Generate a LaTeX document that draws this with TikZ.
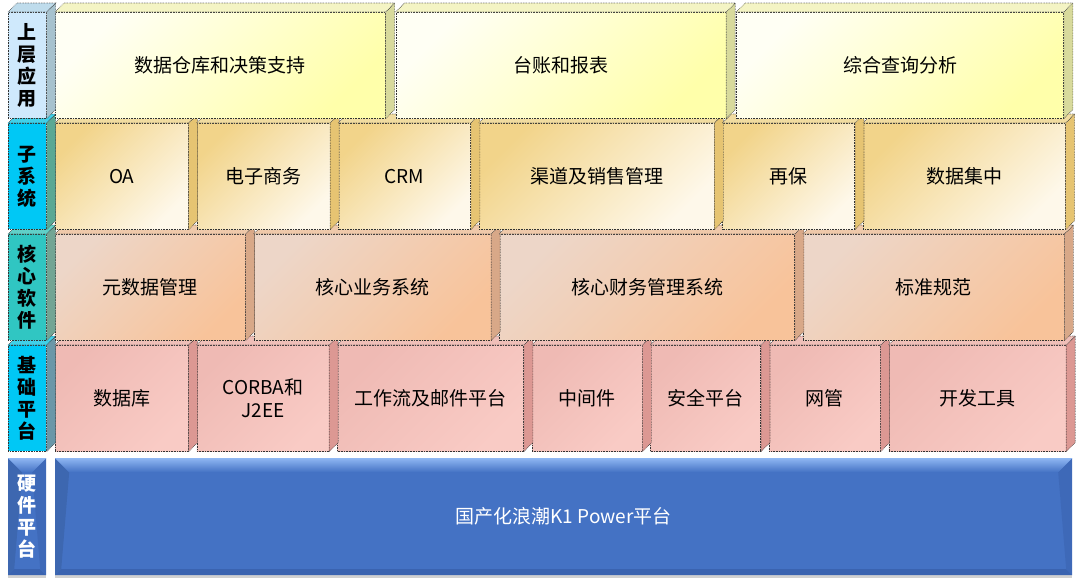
\documentclass[tikz,border=0pt]{standalone}
\usepackage{fontspec}
\setmainfont{Noto Sans CJK SC}
\usetikzlibrary{positioning,calc,shadows}
\definecolor{upperTL}{RGB}{255, 255, 244}
\definecolor{upperBR}{RGB}{255, 255, 170}
\definecolor{upperSide}{RGB}{216, 218, 156}
\definecolor{upperTop}{RGB}{244, 244, 196}
\definecolor{subTL}{RGB}{242, 212, 138}
\definecolor{subBR}{RGB}{254, 248, 234}
\definecolor{subSide}{RGB}{230, 196, 114}
\definecolor{subTop}{RGB}{241, 220, 160}
\definecolor{coreTL}{RGB}{237, 214, 200}
\definecolor{coreBR}{RGB}{248, 195, 154}
\definecolor{coreSide}{RGB}{216, 168, 136}
\definecolor{coreTop}{RGB}{239, 201, 170}
\definecolor{baseTL}{RGB}{239, 186, 180}
\definecolor{baseBR}{RGB}{249, 203, 197}
\definecolor{baseSide}{RGB}{220, 152, 147}
\definecolor{baseTop}{RGB}{239, 191, 184}
\definecolor{lblUpper}{RGB}{207, 233, 252}
\definecolor{lblUpperSide}{RGB}{167, 194, 206}
\definecolor{lblUpperTop}{RGB}{191, 220, 236}
\definecolor{lblCyan}{RGB}{0, 200, 245}
\definecolor{lblCyanTop}{RGB}{64, 208, 232}
\definecolor{lblSubSide}{RGB}{90, 168, 148}
\definecolor{lblBaseSide}{RGB}{106, 151, 168}
\definecolor{lblTeal}{RGB}{48, 198, 194}
\definecolor{lblTealSide}{RGB}{114, 165, 148}
\definecolor{lblTealTop}{RGB}{96, 208, 200}
\definecolor{hwBlue}{RGB}{68, 114, 196}
\definecolor{hwLight}{RGB}{142, 182, 242}
\definecolor{hwDark}{RGB}{58, 99, 176}

% top and right faces of a box, 9pt deep
\newcommand{\cubefaces}[3]{%
  \filldraw[facedge, fill=#2] (#1.north east) -- ++(9pt,9pt)
    -- ($(#1.south east)+(9pt,9pt)$) -- (#1.south east) -- cycle;
  \filldraw[facedge, fill=#3] (#1.north west) -- ++(9pt,9pt)
    -- ($(#1.north east)+(9pt,9pt)$) -- (#1.north east) -- cycle;
}

\begin{document}
\begin{tikzpicture}[
  x=1pt, y=-1pt,
  node distance=8pt,
  facedge/.style={draw=black!80, densely dotted, line width=0.6pt},
  face/.style={facedge, inner sep=0pt, minimum height=106pt, align=center,
               font=\fontsize{19}{23}\selectfont},
  lbl/.style={face, minimum width=38pt, font=\fontsize{19}{22}\selectfont\bfseries},
  upper/.style={face, top color=upperTL, bottom color=upperBR, shading angle=45},
  sub/.style={face, top color=subTL, bottom color=subBR, shading angle=45},
  core/.style={face, top color=coreTL, bottom color=coreBR, shading angle=45},
  base/.style={face, top color=baseTL, bottom color=baseBR, shading angle=45},
  hw/.style={fill=hwBlue, inner sep=0pt, minimum height=117pt, align=center,
             text=white, drop shadow={shadow xshift=0pt, shadow yshift=-3pt,
             opacity=0.3, fill=black!60},
    path picture={
      \fill[hwDark] (path picture bounding box.south west) -- ++(6pt,6pt)
        -- ($(path picture bounding box.south east)+(-6pt,6pt)$)
        -- (path picture bounding box.south east) -- cycle;
      \fill[hwDark!60!hwBlue] (path picture bounding box.north east) -- ++(-14pt,-14pt)
        -- ($(path picture bounding box.south east)+(-6pt,6pt)$)
        -- (path picture bounding box.south east) -- cycle;
      \fill[hwBlue!90!black] (path picture bounding box.north west) -- ++(14pt,-14pt)
        -- ($(path picture bounding box.south west)+(6pt,6pt)$)
        -- (path picture bounding box.south west) -- cycle;
      \shade[top color=hwLight, bottom color=hwBlue] (path picture bounding box.north west)
        -- (path picture bounding box.north east) -- ++(-14pt,-14pt)
        -- ($(path picture bounding box.north west)+(14pt,-14pt)$) -- cycle;
    }}
]
\useasboundingbox (0,0) rectangle (1080,584);

% hardware
\node[hw, minimum width=38pt, anchor=north west, font=\fontsize{19}{22}\selectfont\bfseries]
  (hwl) at (8,458) {硬\\件\\平\\台};
\node[hw, minimum width=1017pt, anchor=north west, font=\fontsize{19}{23}\selectfont]
  (hwp) at (55,458) {国产化浪潮K1 Power平台};

% base platform
\node[lbl, fill=lblCyan, anchor=north west] (l4) at (8,345) {基\\础\\平\\台};
\node[base, minimum width=133pt, anchor=north west] (b1) at (55,345) {数据库};
\node[base, minimum width=132pt, right=of b1] (b2) {CORBA和\\J2EE};
\node[base, minimum width=186pt, right=of b2] (b3) {工作流及邮件平台};
\node[base, minimum width=110pt, right=of b3] (b4) {中间件};
\node[base, minimum width=110pt, right=of b4] (b5) {安全平台};
\node[base, minimum width=111pt, right=of b5] (b6) {网管};
\node[base, minimum width=177pt, right=of b6] (b7) {开发工具};
\cubefaces{l4}{lblBaseSide}{lblCyanTop}
\cubefaces{b1}{baseSide}{baseTop}
\cubefaces{b2}{baseSide}{baseTop}
\cubefaces{b3}{baseSide}{baseTop}
\cubefaces{b4}{baseSide}{baseTop}
\cubefaces{b5}{baseSide}{baseTop}
\cubefaces{b6}{baseSide}{baseTop}
\cubefaces{b7}{baseSide}{baseTop}

% core software
\node[lbl, fill=lblTeal, anchor=north west] (l3) at (8,234) {核\\心\\软\\件};
\node[core, minimum width=190pt, anchor=north west] (c1) at (55,234) {元数据管理};
\node[core, minimum width=237pt, right=of c1] (c2) {核心业务系统};
\node[core, minimum width=295pt, right=of c2] (c3) {核心财务管理系统};
\node[core, minimum width=261pt, right=of c3] (c4) {标准规范};
\cubefaces{l3}{lblTealSide}{lblTealTop}
\cubefaces{c1}{coreSide}{coreTop}
\cubefaces{c2}{coreSide}{coreTop}
\cubefaces{c3}{coreSide}{coreTop}
\cubefaces{c4}{coreSide}{coreTop}

% subsystems
\node[lbl, fill=lblCyan, anchor=north west] (l2) at (8,123) {子\\系\\统};
\node[sub, minimum width=133pt, anchor=north west] (s1) at (55,123) {OA};
\node[sub, minimum width=133pt, right=of s1] (s2) {电子商务};
\node[sub, minimum width=132pt, right=of s2] (s3) {CRM};
\node[sub, minimum width=235pt, right=of s3] (s4) {渠道及销售管理};
\node[sub, minimum width=132pt, right=of s4] (s5) {再保};
\node[sub, minimum width=202pt, right=of s5] (s6) {数据集中};
\cubefaces{l2}{lblSubSide}{lblCyanTop}
\cubefaces{s1}{subSide}{subTop}
\cubefaces{s2}{subSide}{subTop}
\cubefaces{s3}{subSide}{subTop}
\cubefaces{s4}{subSide}{subTop}
\cubefaces{s5}{subSide}{subTop}
\cubefaces{s6}{subSide}{subTop}

% upper applications
\node[lbl, fill=lblUpper, anchor=north west] (l1) at (8,12) {上\\层\\应\\用};
\node[upper, minimum width=330pt, anchor=north west] (u1) at (55,12) {数据仓库和决策支持};
\node[upper, minimum width=330pt, right=10pt of u1] (u2) {台账和报表};
\node[upper, minimum width=327pt, right=10pt of u2] (u3) {综合查询分析};
\cubefaces{l1}{lblUpperSide}{lblUpperTop}
\cubefaces{u1}{upperSide}{upperTop}
\cubefaces{u2}{upperSide}{upperTop}
\cubefaces{u3}{upperSide}{upperTop}
\end{tikzpicture}
\end{document}
